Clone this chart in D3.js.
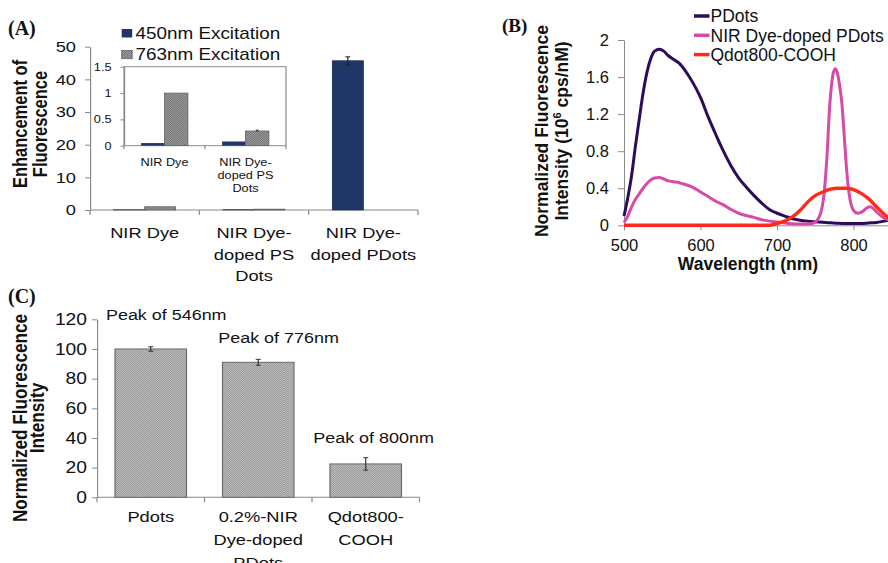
<!DOCTYPE html>
<html><head><meta charset="utf-8">
<script src="https://cdn.jsdelivr.net/npm/d3@7"></script>
<style>
html,body{margin:0;padding:0;background:#fff;}
svg{display:block;font-family:"Liberation Sans",Arial,sans-serif;}
</style></head><body>
<svg id="fig" width="888" height="563"></svg>
<script>
// ---------- Panel A data ----------
const catsA = ["NIR Dye", "NIR Dye-doped PS Dots", "NIR Dye-doped PDots"];
const catLabelsA = [["NIR Dye"], ["NIR Dye-", "doped PS", "Dots"], ["NIR Dye-", "doped PDots"]];
const seriesA = ["450nm Excitation", "763nm Excitation"];
const exc450 = [0.05, 0.08, 45.7];
const exc763 = [1.0, 0.27, null];
const err450 = [0, 0, 1.2];
const ticksA = [0, 10, 20, 30, 40, 50];
// inset of panel A
const catsInset = ["NIR Dye", "NIR Dye-doped PS Dots"];
const insetLabels = [["NIR Dye"], ["NIR Dye-", "doped PS", "Dots"]];
const inset450 = [0.05, 0.08];
const inset763 = [1.0, 0.28];
const insetErr763 = [0, 0.015];
const ticksInset = [0, 0.5, 1, 1.5];

// ---------- Panel B data ----------
const seriesB = ["PDots", "NIR Dye-doped PDots", "Qdot800-COOH"];
const wlPdots = [500,505,510,515,520,525,530,535,540,546,552,558,565,572,580,590,600,610,620,630,640,650,660,670,680,690,700,710,720,730,740,750,760,770,780,790,800,810,820,830,840,850];
const valPdots = [0.10,0.30,0.54,0.86,1.15,1.43,1.65,1.80,1.88,1.90,1.88,1.83,1.79,1.75,1.67,1.54,1.38,1.17,0.98,0.80,0.64,0.51,0.41,0.32,0.24,0.17,0.13,0.10,0.07,0.055,0.045,0.038,0.032,0.027,0.022,0.02,0.02,0.02,0.025,0.03,0.045,0.06];
const wlNir = [500,505,510,515,520,525,530,535,540,546,552,558,565,572,580,590,600,610,620,630,640,650,660,670,680,690,700,710,720,730,740,748,753,757,761,765,769,773,776,779,782,785,788,791,794,797,801,806,812,818,822,826,832,838,845,850];
const valNir = [0.03,0.10,0.20,0.28,0.34,0.40,0.45,0.49,0.51,0.515,0.50,0.48,0.47,0.46,0.44,0.41,0.36,0.31,0.26,0.22,0.17,0.13,0.105,0.085,0.06,0.045,0.035,0.025,0.018,0.015,0.015,0.025,0.06,0.13,0.30,0.70,1.30,1.62,1.69,1.64,1.50,1.30,0.95,0.60,0.36,0.22,0.15,0.13,0.15,0.19,0.20,0.18,0.13,0.09,0.06,0.05];
const wlQdot = [500,550,600,650,690,700,710,720,730,740,750,760,770,780,790,800,810,820,830,840,850,860];
const valQdot = [0,0,0,0,0,0.02,0.045,0.09,0.16,0.25,0.32,0.36,0.39,0.40,0.40,0.385,0.345,0.285,0.20,0.12,0.06,0.035];
const ticksBy = [0, 0.4, 0.8, 1.2, 1.6, 2];
const ticksBx = [500, 600, 700, 800];

// ---------- Panel C data ----------
const catsC = ["Pdots", "0.2%-NIR Dye-doped PDots", "Qdot800-COOH"];
const catLabelsC = [["Pdots"], ["0.2%-NIR", "Dye-doped", "PDots"], ["Qdot800-", "COOH"]];
const intensityC = [100, 91, 22.5];
const errC = [1.5, 2, 4.2];
const peakLabelsC = ["Peak of 546nm", "Peak of 776nm", "Peak of 800nm"];
const ticksC = [0, 20, 40, 60, 80, 100, 120];

// ---------- drawing ----------
const svg = d3.select("#fig");
const AXIS = "#8a8a8a", TXT = "#111";
const NAVY = "#1e3766";
const defs = svg.append("defs");
function checker(id, base, dot) {
  const p = defs.append("pattern").attr("id", id).attr("width", 2).attr("height", 2).attr("patternUnits", "userSpaceOnUse");
  p.append("rect").attr("width", 2).attr("height", 2).attr("fill", base);
  p.append("rect").attr("width", 1).attr("height", 1).attr("fill", dot);
  p.append("rect").attr("x", 1).attr("y", 1).attr("width", 1).attr("height", 1).attr("fill", dot);
}
checker("hatchA", "#a9a9a9", "#676767");
checker("hatchC", "#c2c2c2", "#959595");

function styleAxis(g, fs) {
  g.select(".domain").attr("stroke", AXIS);
  g.selectAll(".tick line").attr("stroke", AXIS);
  g.selectAll(".tick text").attr("fill", TXT).attr("font-size", fs).attr("font-family", '"Liberation Sans",Arial,sans-serif');
}

// panel letters (unstretched)
[["(A)", 8, 35], ["(C)", 8, 303]].forEach(p => svg.append("text").attr("x", p[1]).attr("y", p[2])
  .attr("font-family", '"Liberation Serif","Times New Roman",serif').attr("font-weight", "bold")
  .attr("font-size", 20).attr("fill", TXT).text(p[0]));

// Left column (panels A and C) is horizontally stretched
const SX = 1.18;
const ix = x => x / SX;
const L = svg.append("g").attr("transform", `scale(${SX},1)`);

// ===== Panel A =====
const yA = d3.scaleLinear().domain([0, 50]).range([210, 46.7]);
const xA = d3.scaleBand().domain(catsA).range([ix(90), ix(418)]).padding(0);
const subA = d3.scaleBand().domain(seriesA).range([0, xA.bandwidth()]).paddingInner(0).paddingOuter(0.76);

const gyA = L.append("g").attr("transform", `translate(${ix(90)},0)`)
  .call(d3.axisLeft(yA).tickValues(ticksA).tickSize(ix(5)).tickPadding(ix(9)).tickSizeOuter(0));
styleAxis(gyA, 15.5);

// x axis A
const gxA = L.append("g");
gxA.append("line").attr("x1", ix(90)).attr("x2", ix(418)).attr("y1", yA(0)).attr("y2", yA(0)).attr("stroke", AXIS);
const bA = catsA.map(c => xA(c)).concat([xA.range()[1]]);
gxA.selectAll("line.t").data(bA).join("line").attr("class", "t")
  .attr("x1", d => d).attr("x2", d => d).attr("y1", yA(0)).attr("y2", yA(0) + 5).attr("stroke", AXIS);
catsA.forEach((c, i) => {
  const t = L.append("text").attr("text-anchor", "middle").attr("font-size", 15.5).attr("fill", TXT);
  catLabelsA[i].forEach((ln, j) => t.append("tspan").attr("x", xA(c) + xA.bandwidth() / 2).attr("y", 238.5 + j * 21.3).text(ln));
});

// bars A
const dataA = [];
catsA.forEach((c, i) => {
  dataA.push({ c, s: seriesA[0], v: exc450[i], e: err450[i] });
  if (exc763[i] != null) dataA.push({ c, s: seriesA[1], v: exc763[i], e: 0 });
});
L.selectAll("rect.barA").data(dataA).join("rect").attr("class", "barA")
  .attr("x", d => xA(d.c) + subA(d.s)).attr("width", subA.bandwidth())
  .attr("y", d => yA(d.v)).attr("height", d => yA(0) - yA(d.v))
  .attr("fill", d => d.s === seriesA[0] ? NAVY : "url(#hatchA)")
  .attr("stroke", d => d.s === seriesA[0] ? "#15284d" : "#555").attr("stroke-width", 0.6);
const errA = dataA.filter(d => d.e > 0);
errA.forEach(d => {
  const cx = xA(d.c) + subA(d.s) + subA.bandwidth() / 2;
  const g = L.append("g").attr("stroke", "#222").attr("stroke-width", 1);
  g.append("line").attr("x1", cx).attr("x2", cx).attr("y1", yA(d.v + d.e)).attr("y2", yA(d.v - d.e));
  g.append("line").attr("x1", cx - ix(2.5)).attr("x2", cx + ix(2.5)).attr("y1", yA(d.v + d.e)).attr("y2", yA(d.v + d.e));
  g.append("line").attr("x1", cx - ix(2.5)).attr("x2", cx + ix(2.5)).attr("y1", yA(d.v - d.e)).attr("y2", yA(d.v - d.e));
});

// legend A
seriesA.forEach((s, i) => {
  const y0 = 29 + i * 21.3;
  L.append("rect").attr("x", ix(121.7)).attr("y", y0).attr("width", ix(10.5)).attr("height", 8.5)
    .attr("fill", i === 0 ? NAVY : "url(#hatchA)").attr("stroke", i === 0 ? "none" : "#555").attr("stroke-width", 0.6);
  L.append("text").attr("x", ix(135.5)).attr("y", y0 + 10).attr("font-size", 16).attr("fill", TXT).text(s);
});

// inset
const yI = d3.scaleLinear().domain([0, 1.5]).range([145.7, 66.7]);
const xI = d3.scaleBand().domain(catsInset).range([ix(124), ix(286)]).padding(0);
const subI = d3.scaleBand().domain(seriesA).range([0, xI.bandwidth()]).paddingInner(0).paddingOuter(0.73);
L.append("rect").attr("x", ix(124)).attr("y", 66.7).attr("width", ix(286) - ix(124)).attr("height", 145.7 - 66.7)
  .attr("fill", "#fff").attr("stroke", AXIS);
const gyI = L.append("g").attr("transform", `translate(${ix(124)},0)`)
  .call(d3.axisLeft(yI).tickValues(ticksInset).tickFormat(d3.format("~g")).tickSize(ix(3.5)).tickPadding(ix(9)).tickSizeOuter(0));
styleAxis(gyI, 10.8);
const bI = catsInset.map(c => xI(c)).concat([xI.range()[1]]);
L.selectAll("line.ti").data(bI).join("line").attr("class", "ti")
  .attr("x1", d => d).attr("x2", d => d).attr("y1", yI(0)).attr("y2", yI(0) + 3.5).attr("stroke", AXIS);
const dataI = [];
catsInset.forEach((c, i) => {
  dataI.push({ c, s: seriesA[0], v: inset450[i], e: 0 });
  dataI.push({ c, s: seriesA[1], v: inset763[i], e: insetErr763[i] });
});
L.selectAll("rect.barI").data(dataI).join("rect").attr("class", "barI")
  .attr("x", d => xI(d.c) + subI(d.s)).attr("width", subI.bandwidth())
  .attr("y", d => yI(d.v)).attr("height", d => yI(0) - yI(d.v))
  .attr("fill", d => d.s === seriesA[0] ? NAVY : "url(#hatchA)")
  .attr("stroke", d => d.s === seriesA[0] ? "none" : "#555").attr("stroke-width", 0.6);
dataI.filter(d => d.e > 0).forEach(d => {
  const cx = xI(d.c) + subI(d.s) + subI.bandwidth() / 2;
  const g = L.append("g").attr("stroke", "#222").attr("stroke-width", 0.8);
  g.append("line").attr("x1", cx).attr("x2", cx).attr("y1", yI(d.v + d.e)).attr("y2", yI(d.v - d.e));
  g.append("line").attr("x1", cx - ix(1.5)).attr("x2", cx + ix(1.5)).attr("y1", yI(d.v + d.e)).attr("y2", yI(d.v + d.e));
});
catsInset.forEach((c, i) => {
  const t = L.append("text").attr("text-anchor", "middle").attr("font-size", 10.8).attr("fill", TXT);
  insetLabels[i].forEach((ln, j) => t.append("tspan").attr("x", xI(c) + xI.bandwidth() / 2).attr("y", 166.5 + j * 13).text(ln));
});

// y title A
const ytA = L.append("text").attr("transform", `translate(${ix(27)},124) rotate(-90)`)
  .attr("text-anchor", "middle").attr("font-weight", "bold").attr("font-size", 16.5).attr("fill", TXT);
ytA.append("tspan").attr("x", 0).attr("y", 0).text("Enhancement of");
ytA.append("tspan").attr("x", 0).attr("y", ix(20)).text("Fluorescence");

// ===== Panel C =====
const yC = d3.scaleLinear().domain([0, 120]).range([497.3, 319.3]);
const xC = d3.scaleBand().domain(catsC).range([ix(97), ix(419.5)]).paddingInner(0.335).paddingOuter(0.1675);
const gyC = L.append("g").attr("transform", `translate(${ix(97)},0)`)
  .call(d3.axisLeft(yC).tickValues(ticksC).tickSize(ix(5)).tickPadding(ix(5)).tickSizeOuter(0));
styleAxis(gyC, 16.3);
L.append("line").attr("x1", ix(97)).attr("x2", ix(419.5)).attr("y1", yC(0)).attr("y2", yC(0)).attr("stroke", AXIS);
const stepC = xC.step();
const bC = catsC.map(c => xC(c) - stepC * 0.335 / 2).concat([ix(419.5)]);
L.selectAll("line.tc").data(bC).join("line").attr("class", "tc")
  .attr("x1", d => d).attr("x2", d => d).attr("y1", yC(0)).attr("y2", yC(0) + 5).attr("stroke", AXIS);
L.selectAll("rect.barC").data(catsC).join("rect").attr("class", "barC")
  .attr("x", c => xC(c)).attr("width", xC.bandwidth())
  .attr("y", (c, i) => yC(intensityC[i])).attr("height", (c, i) => yC(0) - yC(intensityC[i]))
  .attr("fill", "url(#hatchC)").attr("stroke", "#6a6a6a").attr("stroke-width", 1);
catsC.forEach((c, i) => {
  const cx = xC(c) + xC.bandwidth() / 2, v = intensityC[i], e = errC[i];
  const g = L.append("g").attr("stroke", "#333").attr("stroke-width", 1);
  g.append("line").attr("x1", cx).attr("x2", cx).attr("y1", yC(v + e)).attr("y2", yC(v - e));
  [v + e, v - e].forEach(w => g.append("line").attr("x1", cx - ix(2.5)).attr("x2", cx + ix(2.5)).attr("y1", yC(w)).attr("y2", yC(w)));
  const t = L.append("text").attr("text-anchor", "middle").attr("font-size", 15.5).attr("fill", TXT);
  catLabelsC[i].forEach((ln, j) => t.append("tspan").attr("x", cx).attr("y", 521.7 + j * 23.3).text(ln));
});
const peakPos = [[106, 320], [218.3, 343.3], [313.3, 443.3]];
peakLabelsC.forEach((s, i) => L.append("text").attr("x", ix(peakPos[i][0])).attr("y", peakPos[i][1])
  .attr("font-size", 15.2).attr("fill", TXT).text(s));
const ytC = L.append("text").attr("transform", `translate(${ix(26.7)},418) rotate(-90)`)
  .attr("text-anchor", "middle").attr("font-weight", "bold").attr("font-size", 17.2).attr("fill", TXT);
ytC.append("tspan").attr("x", 0).attr("y", 0).text("Normalized Fluorescence");
ytC.append("tspan").attr("x", 0).attr("y", ix(17)).text("Intensity");

// ===== Panel B (not stretched) =====
const B = svg.append("g");
B.append("text").attr("x", 502).attr("y", 32).attr("font-family", '"Liberation Serif","Times New Roman",serif')
  .attr("font-weight", "bold").attr("font-size", 19).attr("fill", TXT).text("(B)");
const yB = d3.scaleLinear().domain([0, 2]).range([225.3, 40]);
const xB = d3.scaleLinear().domain([500, 900]).range([624, 930]);
const gyB = B.append("g").attr("transform", "translate(624,0)")
  .call(d3.axisLeft(yB).tickValues(ticksBy).tickFormat(d3.format("~g")).tickSize(6).tickPadding(9).tickSizeOuter(0));
styleAxis(gyB, 16.5);
const gxB = B.append("g").attr("transform", `translate(0,${yB(0)})`)
  .call(d3.axisBottom(xB).tickValues(ticksBx).tickSize(5).tickPadding(9).tickSizeOuter(0));
styleAxis(gxB, 16.5);
const colorsB = ["#2d0c5c", "#d84aa8", "#ff2a1c"];
const specs = [[wlPdots, valPdots], [wlNir, valNir], [wlQdot, valQdot]];
const line = d3.line().x(d => xB(d[0])).y(d => yB(d[1])).curve(d3.curveMonotoneX);
specs.forEach((sp, k) => {
  const pts = sp[0].map((w, i) => [w, sp[1][i]]);
  B.append("path").datum(pts).attr("d", line).attr("fill", "none")
    .attr("stroke", colorsB[k]).attr("stroke-width", k === 2 ? 3.4 : 3).attr("stroke-linejoin", "round");
});
seriesB.forEach((s, i) => {
  const yc = 16 + i * 19.3;
  B.append("line").attr("x1", 694).attr("x2", 709.5).attr("y1", yc).attr("y2", yc).attr("stroke", colorsB[i]).attr("stroke-width", 3.5);
  B.append("text").attr("x", 710.5).attr("y", yc + 6.3).attr("font-size", 17.5).attr("fill", TXT).text(s);
});
B.append("text").attr("x", 748).attr("y", 270).attr("text-anchor", "middle").attr("font-weight", "bold")
  .attr("font-size", 17.5).attr("fill", TXT).text("Wavelength (nm)");
const ytB = B.append("text").attr("transform", "translate(548,131) rotate(-90)")
  .attr("text-anchor", "middle").attr("font-weight", "bold").attr("font-size", 17.5).attr("fill", TXT);
ytB.append("tspan").attr("x", 0).attr("y", 0).text("Normalized Fluorescence");
const l2 = ytB.append("tspan").attr("x", 0).attr("y", 19.5);
l2.append("tspan").text("Intensity (10");
l2.append("tspan").attr("font-size", 11).attr("dy", -7).text("6");
l2.append("tspan").attr("dy", 7).text(" cps/nM)");
</script>
</body></html>
